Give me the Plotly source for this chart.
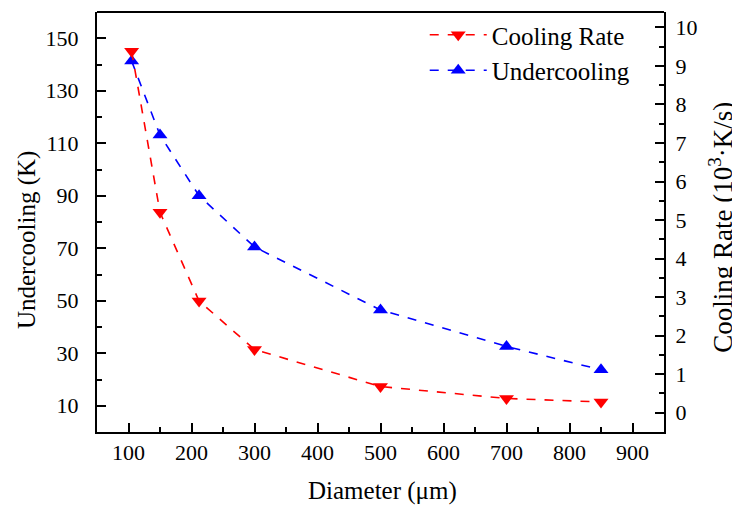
import plotly.graph_objects as go

diameter = [105, 150, 212, 300, 500, 700, 850]
undercooling = [141.3, 113.1, 90.0, 70.5, 46.5, 32.6, 23.7]
cooling_rate = [9.38, 5.2, 2.9, 1.64, 0.68, 0.37, 0.28]

x_ticks = [100, 200, 300, 400, 500, 600, 700, 800, 900]
left_ticks = [10, 30, 50, 70, 90, 110, 130, 150]
right_ticks = list(range(0, 11))

FONT = "Liberation Serif"

fig = go.Figure()
fig.add_trace(go.Scatter(
    x=diameter, y=cooling_rate, name="Cooling Rate", yaxis="y2",
    mode="lines+markers", legendgroup="a",
    line=dict(color="#ff0000", width=1.6, dash="dash"),
    marker=dict(symbol="triangle-down", size=13, color="#ff0000"),
))
fig.add_trace(go.Scatter(
    x=diameter, y=undercooling, name="Undercooling", yaxis="y",
    mode="lines+markers", legendgroup="b",
    line=dict(color="#0000ff", width=1.6, dash="dash"),
    marker=dict(symbol="triangle-up", size=13, color="#0000ff"),
))

axis_common = dict(
    showline=True, linecolor="black", linewidth=2, mirror=False,
    ticks="inside", ticklen=9, tickwidth=1.5, tickcolor="black",
    showgrid=False, zeroline=False, automargin=False,
    tickfont=dict(family=FONT, size=22, color="black"),
)

fig.update_layout(
    width=732, height=498,
    margin=dict(l=89, r=76, t=4, b=74),
    paper_bgcolor="white", plot_bgcolor="white",
    font=dict(family=FONT, color="black"),
    showlegend=True,
    legend=dict(
        x=0.578, y=1.0, xanchor="left", yanchor="top",
        font=dict(family=FONT, size=25, color="black"),
        bgcolor="rgba(0,0,0,0)", tracegroupgap=0,
        traceorder="grouped", itemwidth=57,
    ),
    xaxis=dict(
        **axis_common, range=[50, 950], tickvals=x_ticks,
        minor=dict(ticks="inside", ticklen=5, tickwidth=1.5, tickcolor="black", dtick=50, tick0=0),
    ),
    yaxis=dict(
        **axis_common, range=[0, 160], tickvals=left_ticks, ticklabelstandoff=12,
        minor=dict(ticks="inside", ticklen=5, tickwidth=1.5, tickcolor="black", dtick=10, tick0=0),
    ),
    yaxis2=dict(
        **axis_common, overlaying="y", side="right", range=[-0.5, 10.4], tickvals=right_ticks,
        ticklabelstandoff=5,
        minor=dict(ticks="inside", ticklen=5, tickwidth=1.5, tickcolor="black", dtick=0.5, tick0=0),
    ),
)

# axis titles
fig.add_annotation(text="Undercooling (K)", xref="paper", yref="paper", x=-0.1235, y=0.457,
                   textangle=-90, showarrow=False, xanchor="center", yanchor="middle",
                   font=dict(family=FONT, size=25, color="black"))
fig.add_annotation(text="Cooling Rate (10<sup>3</sup>·K/s)", xref="paper", yref="paper", x=1.1, y=0.488,
                   textangle=-90, showarrow=False, xanchor="center", yanchor="middle",
                   font=dict(family=FONT, size=27, color="black"))
fig.add_annotation(text="Diameter (μm)", xref="paper", yref="paper", x=0.504, y=-0.14,
                   showarrow=False, xanchor="center", yanchor="middle",
                   font=dict(family=FONT, size=25, color="black"))

# top border line
fig.add_shape(type="line", xref="paper", yref="paper", x0=0, x1=1, y0=1, y1=1,
              line=dict(color="black", width=2))

fig.write_html("out.html")
